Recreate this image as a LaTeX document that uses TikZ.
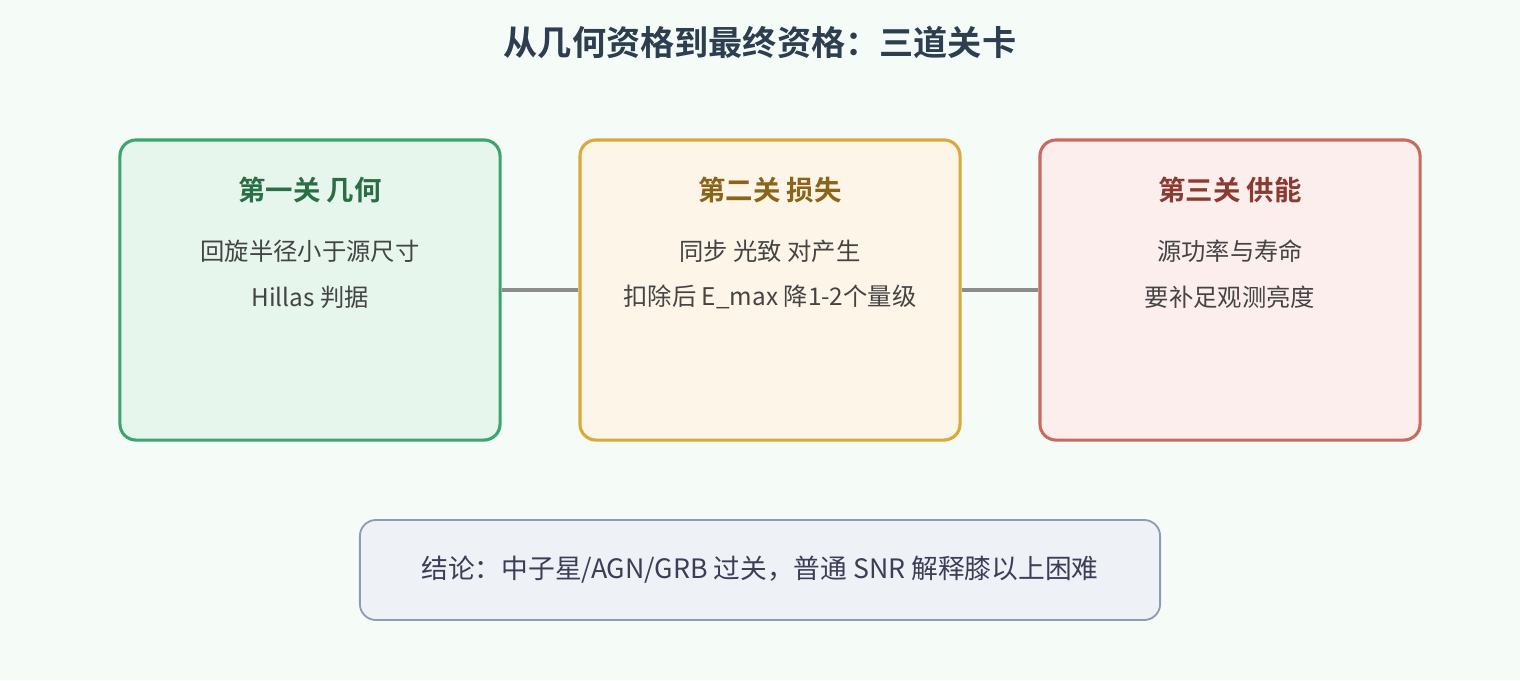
\documentclass[tikz,border=0pt]{standalone}
\usepackage{fontspec}
\setmainfont{Noto Sans CJK SC}[BoldFont={Noto Sans CJK SC Bold}]
\usetikzlibrary{positioning}
\definecolor{bgc}{HTML}{F5FCF8}
\definecolor{gfill}{HTML}{E6F6EC}\definecolor{gdraw}{HTML}{3AA56E}\definecolor{gtext}{HTML}{2A6E45}
\definecolor{yfill}{HTML}{FDF5E8}\definecolor{ydraw}{HTML}{D9A93A}\definecolor{ytext}{HTML}{8A6418}
\definecolor{rfill}{HTML}{FDEEEE}\definecolor{rdraw}{HTML}{C96A5E}\definecolor{rtext}{HTML}{8B3A30}
\definecolor{sfill}{HTML}{EEF1F6}\definecolor{sdraw}{HTML}{8F9BB0}
\definecolor{bodyc}{HTML}{444444}\definecolor{titlec}{HTML}{2C3E50}
\tikzset{
  gate/.style={rounded corners=0.4cm,line width=2.2pt,minimum width=9.5cm,minimum height=7.5cm},
  head/.style={font=\bfseries\fontsize{19.5}{23}\selectfont},
  body/.style={text=bodyc,font=\fontsize{17.3}{20}\selectfont},
  link/.style={line width=2.6pt,draw=gray!90}
}
\begin{document}
\begin{tikzpicture}[x=0.025cm,y=-0.025cm]
  \fill[bgc] (0,0) rectangle (1520,680);
  \useasboundingbox (0,0) rectangle (1520,680);
  \node[text=titlec,font=\bfseries\fontsize{24.3}{28}\selectfont] (title) at (760,42) {从几何资格到最终资格：三道关卡};
  % three gates
  \node[gate,fill=gfill,draw=gdraw] (g1) at (310,290) {};
  \node[gate,fill=yfill,draw=ydraw] (g2) at (770,290) {};
  \node[gate,fill=rfill,draw=rdraw] (g3) at (1230,290) {};
  \draw[link] (g1.east) -- (g2.west);
  \draw[link] (g2.east) -- (g3.west);
  \node[head,text=gtext] (h1) at (310,190) {第一关 几何};
  \node[head,text=ytext] (h2) at (770,190) {第二关 损失};
  \node[head,text=rtext] (h3) at (1230,190) {第三关 供能};
  \node[body] (a1) at (310,251) {回旋半径小于源尺寸};
  \node[body] (b1) at (310,297) {Hillas 判据};
  \node[body] (a2) at (770,251) {同步 光致 对产生};
  \node[body] (b2) at (770,297) {扣除后 E\_max 降1-2个量级};
  \node[body] (a3) at (1230,251) {源功率与寿命};
  \node[body] (b3) at (1230,297) {要补足观测亮度};
  % conclusion
  \node[rounded corners=0.4cm,line width=1.3pt,fill=sfill,draw=sdraw,minimum width=20cm,minimum height=2.5cm,text=bodyc!90!blue,font=\fontsize{19}{22}\selectfont] (sum) at (760,570) {结论：中子星/AGN/GRB 过关，普通 SNR 解释膝以上困难};
\end{tikzpicture}
\end{document}
